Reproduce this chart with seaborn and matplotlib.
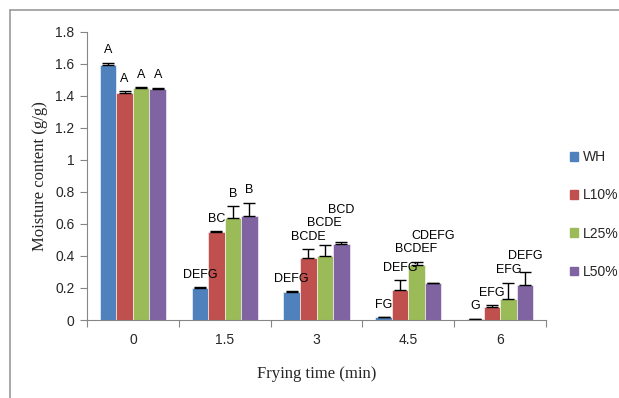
import matplotlib
matplotlib.use("Agg")
import matplotlib.pyplot as plt
from matplotlib.lines import Line2D
import seaborn as sns
import pandas as pd
import numpy as np

# frying time categories
times = ["0", "1.5", "3", "4.5", "6"]
series = ["WH", "L10%", "L25%", "L50%"]

# moisture content (g/g)
wh = [1.59, 0.20, 0.175, 0.017, 0.005]
l10 = [1.42, 0.552, 0.387, 0.187, 0.083]
l25 = [1.45, 0.637, 0.40, 0.343, 0.131]
l50 = [1.44, 0.652, 0.475, 0.229, 0.218]

# upper error bars
wh_err = [0.016, 0.003, 0.003, 0.002, 0.003]
l10_err = [0.01, 0.003, 0.056, 0.063, 0.011]
l25_err = [0.002, 0.074, 0.068, 0.021, 0.102]
l50_err = [0.01, 0.08, 0.014, 0.0, 0.084]

# significance letters
wh_lab = ["A", "DEFG", "DEFG", "FG", "G"]
l10_lab = ["A", "BC", "BCDE", "DEFG", "EFG"]
l25_lab = ["A", "B", "BCDE", "BCDEF", "EFG"]
l50_lab = ["A", "B", "BCD", "CDEFG", "DEFG"]

colors = ["#4F81BD", "#C0504D", "#9BBB59", "#8064A2"]

vals = [wh, l10, l25, l50]
errs = [wh_err, l10_err, l25_err, l50_err]
labs = [wh_lab, l10_lab, l25_lab, l50_lab]

df = pd.DataFrame({
    "time": times * len(series),
    "group": np.repeat(series, len(times)),
    "moisture": np.concatenate(vals),
})

sns.set_style("white")
plt.rcParams["font.family"] = ["Liberation Sans", "DejaVu Sans"]

fig = plt.figure(figsize=(6.19, 3.98), dpi=100)
ax = fig.add_axes([87 / 619, 78 / 398, 459 / 619, 288.3 / 398])

sns.barplot(data=df, x="time", y="moisture", hue="group", palette=colors,
            order=times, hue_order=series, width=0.72, errorbar=None,
            saturation=1, edgecolor="white", linewidth=0.4, ax=ax)

# error bars and letters on each bar, positioned from the drawn patches
bar_conts = list(ax.containers)
texts = []
for i, cont in enumerate(bar_conts):
    xs = [p.get_x() + p.get_width() / 2 for p in cont.patches]
    hs = [p.get_height() for p in cont.patches]
    ax.errorbar(xs, hs, yerr=[np.zeros(len(hs)), errs[i]], fmt="none",
                ecolor="black", elinewidth=1, capsize=4, capthick=1)
    row = []
    for x, h, e, t in zip(xs, hs, errs[i], labs[i]):
        row.append(ax.text(x, h + e + 0.04, t, ha="center", va="bottom",
                           fontsize=9, color="black"))
    texts.append(row)

ax.set_ylim(0, 1.8)
ax.set_xlim(-0.5, 4.5)
ax.set_yticks(np.arange(0, 1.81, 0.2))
ax.set_yticklabels(["0", "0.2", "0.4", "0.6", "0.8", "1", "1.2", "1.4", "1.6", "1.8"])
ax.tick_params(axis="y", which="major", length=5, width=0.8, color="#868686",
               labelsize=10, pad=4, left=True)
ax.set_xticks(np.arange(-0.5, 4.6, 1.0), minor=True)
ax.tick_params(axis="x", which="minor", length=5, width=0.8, color="#868686",
               bottom=True)
ax.tick_params(axis="x", which="major", length=0, labelsize=10, pad=9)

for side in ["top", "right"]:
    ax.spines[side].set_visible(False)
for side in ["left", "bottom"]:
    ax.spines[side].set_color("#868686")
    ax.spines[side].set_linewidth(0.8)

serif = ["Liberation Serif", "DejaVu Serif"]
ax.set_xlabel("Frying time (min)", family=serif, fontsize=12, labelpad=14)
ax.set_ylabel("Moisture content (g/g)", family=serif, fontsize=12, labelpad=5)

ax.get_legend().remove()
handles = [plt.Rectangle((0, 0), 1, 1, color=c) for c in colors]
fig.legend(handles, series, loc="center left", bbox_to_anchor=(570 / 619, 0.461),
           frameon=False, fontsize=10, handlelength=0.6, handleheight=0.6,
           handletextpad=0.3, labelspacing=1.75, borderpad=0, borderaxespad=0)

# push letters up when they collide with a neighbour in the same group
fig.canvas.draw()
renderer = fig.canvas.get_renderer()
for j in range(len(times)):
    placed = []
    for i in range(len(series)):
        t = texts[i][j]
        for _ in range(60):
            bb = t.get_window_extent(renderer).expanded(1.0, 1.05)
            if not any(bb.overlaps(p) for p in placed):
                break
            x, y = t.get_position()
            t.set_position((x, y + 0.02))
        placed.append(t.get_window_extent(renderer))

# outer frame of the original figure
fig.add_artist(Line2D([10 / 619, 1.0], [1 - 10 / 398, 1 - 10 / 398],
                      transform=fig.transFigure, color="#9a9a9a", lw=1.2))
fig.add_artist(Line2D([10 / 619, 10 / 619], [0, 1 - 10 / 398],
                      transform=fig.transFigure, color="#9a9a9a", lw=1.2))

fig.savefig("out.png", dpi=100)
